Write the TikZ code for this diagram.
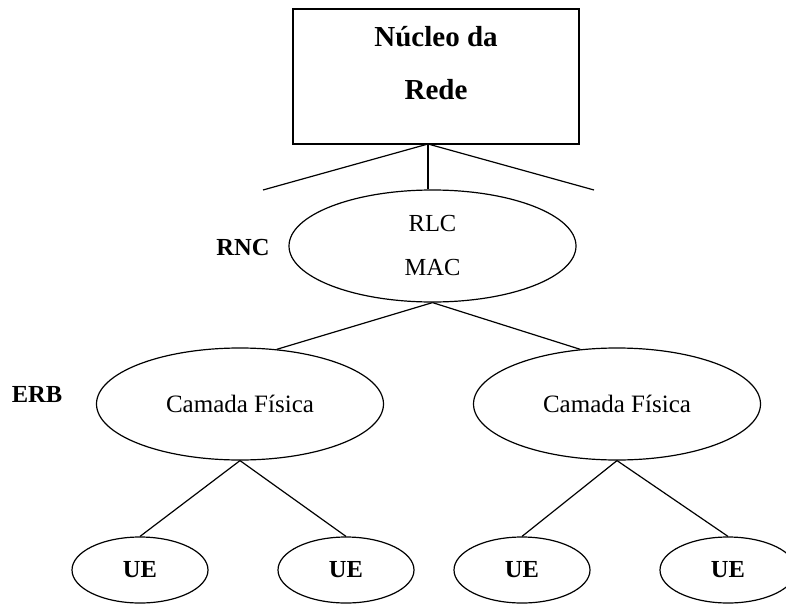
\documentclass[tikz,border=0pt]{standalone}
\usepackage{fontspec}
\setmainfont{Liberation Serif}
\usetikzlibrary{shapes.geometric}

\tikzset{
  link/.style={line width=1.2pt},
  layer/.style={draw, ellipse, line width=1.2pt, inner sep=0pt,
    font=\fontsize{25}{30}\selectfont, minimum width=287pt, minimum height=112pt},
  uenode/.style={draw, ellipse, line width=1.2pt, inner sep=0pt,
    font=\bfseries\fontsize{24.5}{29}\selectfont, minimum width=136pt, minimum height=66pt},
  tag/.style={font=\bfseries\fontsize{24.5}{29}\selectfont},
}

\begin{document}
\begin{tikzpicture}[x=1pt, y=-1pt]
  \useasboundingbox (0,0) rectangle (786,604);

  % Core network box
  \node[draw, line width=1.2pt, minimum width=286pt, minimum height=135pt] (core) at (436,76.5) {};
  \node[font=\bfseries\fontsize{29}{34}\selectfont, align=center] (coretxt) at (436,63) {Núcleo da\\[19pt]Rede};
  \coordinate (hub) at (428,144);

  % RNC level
  \node[layer, align=center, font=\fontsize{24.5}{29}\selectfont] (rnc) at (432.5,246) {RLC\\[15pt]MAC};
  \node[tag] (rnclbl) at (243,248) {RNC};
  \coordinate (feedL) at (263,190);
  \coordinate (feedR) at (594,190);

  \draw[link] (hub) -- (feedL);
  \draw[link] (hub) -- (feedR);
  \draw[link] (hub) -- (hub |- rnc.north);

  % ERB level
  \node[layer] (erbL) at (240,404) {Camada Física};
  \node[layer] (erbR) at (617,404) {Camada Física};
  \node[tag] (erblbl) at (37,395) {ERB};

  \draw[link] (rnc.south) -- (erbL.56);
  \draw[link] (rnc.south) -- (erbR.124);

  % User equipment
  \node[uenode] (ue1) at (140,570) {UE};
  \node[uenode] (ue2) at (346,570) {UE};
  \node[uenode] (ue3) at (522,570) {UE};
  \node[uenode] (ue4) at (728,570) {UE};

  \draw[link] (erbL.south) -- (ue1.north);
  \draw[link] (erbL.south) -- (ue2.north);
  \draw[link] (erbR.south) -- (ue3.north);
  \draw[link] (erbR.south) -- (ue4.north);
\end{tikzpicture}
\end{document}
